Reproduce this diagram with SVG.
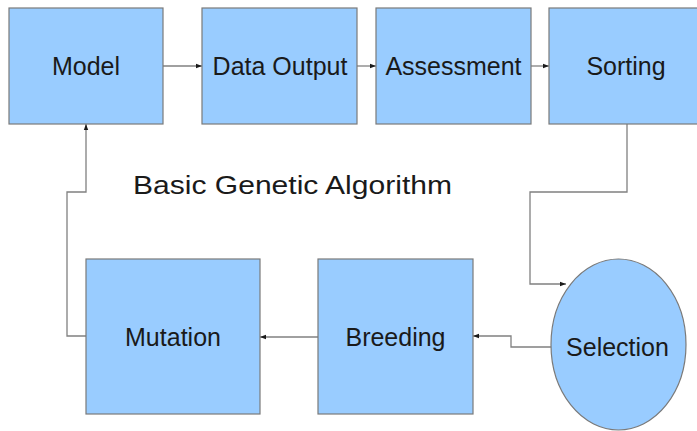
<svg xmlns="http://www.w3.org/2000/svg" width="697" height="431" viewBox="0 0 697 431">
<defs>
<style>
.box{fill:#99ccff;stroke:#7a7a7a;stroke-width:1.2}
.lbl{font-family:"Liberation Sans",Arial,sans-serif;font-size:25px;fill:#1a1a1a;text-anchor:middle}
.conn{fill:none;stroke:#808080;stroke-width:1.3}
</style>
<marker id="ah" viewBox="0 0 6 6" refX="6" refY="3" markerWidth="6" markerHeight="6" markerUnits="userSpaceOnUse" orient="auto">
<path d="M0,0.8 L6,3 L0,5.2 Z" fill="#1a1a1a"/>
</marker>
</defs>
<rect width="697" height="431" fill="#ffffff"/>
<g id="connectors">
<path class="conn" d="M163,66 H202" marker-end="url(#ah)"/>
<path class="conn" d="M357,66 H376" marker-end="url(#ah)"/>
<path class="conn" d="M531,66 H549" marker-end="url(#ah)"/>
<path class="conn" d="M627,124 V192 H530 V284 H566" marker-end="url(#ah)"/>
<path class="conn" d="M551,347 H511 V336 H473" marker-end="url(#ah)"/>
<path class="conn" d="M318,337 H260" marker-end="url(#ah)"/>
<path class="conn" d="M86,336 H67 V192 H86 V124" marker-end="url(#ah)"/>
</g>
<g id="model"><rect class="box" x="9" y="8" width="154" height="116"/><text class="lbl" x="86" y="75">Model</text></g>
<g id="data-output"><rect class="box" x="202" y="8" width="155" height="116"/><text class="lbl" x="280" y="75">Data Output</text></g>
<g id="assessment"><rect class="box" x="376" y="8" width="155" height="116"/><text class="lbl" x="453.5" y="75">Assessment</text></g>
<g id="sorting"><rect class="box" x="549" y="8" width="155" height="116"/><text class="lbl" x="626" y="75">Sorting</text></g>
<g id="selection"><ellipse class="box" cx="618.5" cy="344.5" rx="67.5" ry="85.5"/><text class="lbl" x="617.5" y="356">Selection</text></g>
<g id="breeding"><rect class="box" x="318" y="259" width="155" height="155"/><text class="lbl" x="395.5" y="346">Breeding</text></g>
<g id="mutation"><rect class="box" x="86" y="259" width="174" height="155"/><text class="lbl" x="173" y="346">Mutation</text></g>
<g id="title"><text class="lbl" x="292.5" y="194" style="font-size:26px" textLength="319" lengthAdjust="spacingAndGlyphs">Basic Genetic Algorithm</text></g>
</svg>
